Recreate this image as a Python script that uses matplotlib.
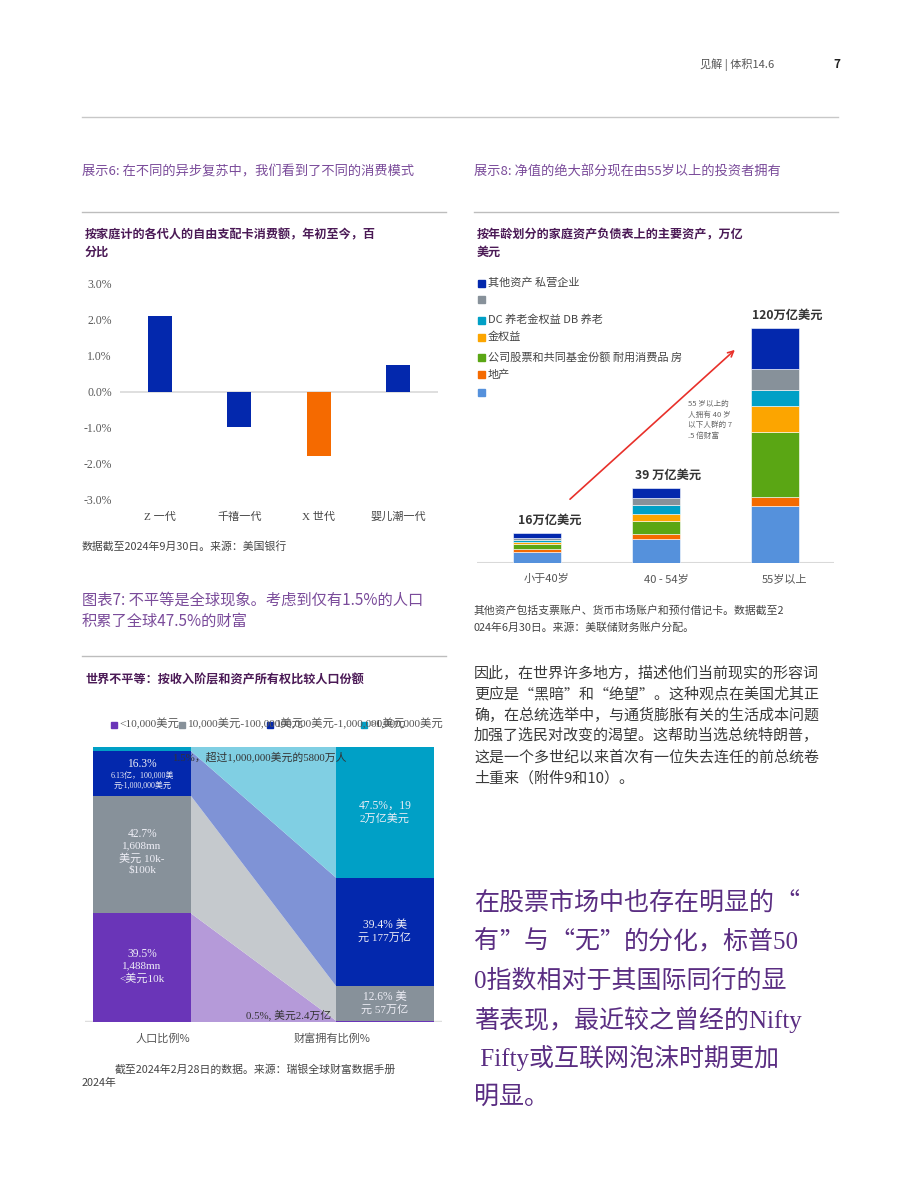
import matplotlib
matplotlib.use("Agg")
import matplotlib.pyplot as plt
import numpy as np
from matplotlib.lines import Line2D
from matplotlib.patches import Rectangle
from matplotlib.transforms import ScaledTranslation

W, H = 920, 1191
SANS = ['Noto Sans CJK SC', 'DejaVu Sans']
SERIF = ['Liberation Serif', 'Noto Sans CJK SC']
plt.rcParams['font.family'] = SANS

# --- exhibit 6: discretionary card spending by generation, YTD %
generations = ['Z 一代', '千禧一代', 'X 世代', '婴儿潮一代']
spend_change = [2.1, -1.0, -1.8, 0.75]
spend_colors = ['#0328ad', '#0328ad', '#f56a00', '#0328ad']
pct_ticks = [-3, -2, -1, 0, 1, 2, 3]

# --- exhibit 8: household assets by age group, $tn (layers bottom -> top)
age_groups = ['小于40岁', '40 - 54岁', '55岁以上']
age_totals = ['16万亿美元', '39 万亿美元', '120万亿美元']
real_estate = [5.8, 12.4, 29.1]
durable_goods = [1.3, 2.2, 4.6]
equities_funds = [2.4, 6.6, 33.3]
db_pension = [1.0, 3.9, 13.3]
dc_pension = [1.0, 4.6, 8.0]
private_biz = [1.4, 3.6, 10.9]
other_assets = [2.4, 5.1, 20.9]
asset_layers = [real_estate, durable_goods, equities_funds, db_pension,
                dc_pension, private_biz, other_assets]
asset_colors = ['#5591dc', '#f56a00', '#5aa614', '#fca500',
                '#00a0c6', '#87919a', '#0328ad']
# legend as printed (top -> bottom), labels garbled in the source
asset_legend = ['其他资产 私营企业', '', 'DC 养老金权益 DB 养老', '金权益',
                '公司股票和共同基金份额 耐用消费品 房', '地产', '']

# --- exhibit 7: world inequality
wealth_bands = ['<10,000美元', '10,000美元-100,000美元',
                '100,000美元-1,000,000美元', '>1,000,000美元']
pop_share = [39.5, 42.7, 16.3, 1.5]
wealth_share = [0.5, 12.6, 39.4, 47.5]
band_dark = ['#6a35b8', '#87919a', '#0328ad', '#00a0c6']
band_light = ['#b59ad9', '#c5c9cd', '#7f93d6', '#80cfe3']
pop_heads = ['39.5%', '42.7%', '16.3%', '']
pop_bodies = ['1,488mn\n<美元10k', '1,608mn\n美元 10k-\n$100k',
              '6.13亿，100,000美\n元-1,000,000美元', '']
pop_body_sizes = [8, 8, 5.8, 8]
wealth_heads = ['', '12.6% 美', '39.4% 美', '47.5%，19']
wealth_bodies = ['', '元 57万亿', '元 177万亿', '2万亿美元']

body_lines = [
    '因此，在世界许多地方，描述他们当前现实的形容词',
    '更应是“黑暗”和“绝望”。这种观点在美国尤其正',
    '确，在总统选举中，与通货膨胀有关的生活成本问题',
    '加强了选民对改变的渴望。这帮助当选总统特朗普，',
    '这是一个多世纪以来首次有一位失去连任的前总统卷',
    '土重来（附件9和10）。',
]
quote_lines = [
    '在股票市场中也存在明显的“',
    '有”与“无”的分化，标普50',
    '0指数相对于其国际同行的显',
    '著表现，最近较之曾经的Nifty',
    ' Fifty或互联网泡沫时期更加',
    '明显。',
]

PURPLE = '#7a4b9a'
DARK_PURPLE = '#4b1a56'
GREY_TXT = '#595959'

fig = plt.figure(figsize=(W / 100, H / 100), dpi=100)
renderer = fig.canvas.get_renderer()


def axes_px(l, t, r, b):
    return fig.add_axes([l / W, 1 - b / H, (r - l) / W, (b - t) / H])


def txt(x, y, s, **kw):
    kw.setdefault('va', 'center')
    return fig.text(x / W, 1 - y / H, s, **kw)


def hline(x0, x1, y, color='#bdbdbd', lw=1.0):
    fig.add_artist(Line2D([x0 / W, x1 / W], [1 - y / H, 1 - y / H],
                          color=color, lw=lw))


def mixed_line(x, y, line, **kw):
    # serif for latin, CJK font for curly quotes so they stay full width
    runs = []
    for ch in line:
        fam = 'cjk' if ch in '“”' else 'serif'
        if runs and runs[-1][1] == fam:
            runs[-1][0] += ch
        else:
            runs.append([ch, fam])
    for run, fam in runs:
        t = txt(x, y, run, family=SANS if fam == 'cjk' else SERIF, **kw)
        x += t.get_window_extent(renderer).width


# header
txt(700, 65, '见解 | 体积14.6', fontsize=8, color='#555555')
txt(833, 65, '7', fontsize=8.5, fontweight='bold', color='#222222')
hline(82, 838, 117, '#c8c8c8')

# section titles
txt(82, 172, '展示6: 在不同的异步复苏中，我们看到了不同的消费模式',
    fontsize=9.5, color=PURPLE)
txt(474, 172, '展示8: 净值的绝大部分现在由55岁以上的投资者拥有',
    fontsize=9.5, color=PURPLE)
hline(82, 446, 212)
hline(474, 838, 212)

# ---------------- exhibit 6 ----------------
for i, line in enumerate(['按家庭计的各代人的自由支配卡消费额，年初至今，百', '分比']):
    txt(85, 235 + 17.5 * i, line, fontsize=8.7, fontweight='bold', color=DARK_PURPLE)

ax1 = axes_px(120, 284, 438, 499)
x1 = np.arange(len(generations))
ax1.bar(x1, spend_change, width=0.3, color=spend_colors)
ax1.axhline(0, color='#d9d9d9', lw=1.2, zorder=0)
ax1.set_xlim(-0.5, 3.5)
ax1.set_ylim(-3, 3)
ax1.set_yticks(pct_ticks)
ax1.set_yticklabels([f'{v:.1f}%' for v in pct_ticks], family=SERIF,
                    fontsize=8.5, color=GREY_TXT)
ax1.set_xticks(x1)
ax1.set_xticklabels(generations, fontsize=8, color='#444444', family=SERIF)
ax1.tick_params(axis='y', length=0, pad=6)
ax1.tick_params(axis='x', length=0, pad=9)
for s in ax1.spines.values():
    s.set_visible(False)

txt(82, 546, '数据截至2024年9月30日。来源：美国银行', fontsize=7.8, color='#444444')

# ---------------- exhibit 8 ----------------
for i, line in enumerate(['按年龄划分的家庭资产负债表上的主要资产，万亿', '美元']):
    txt(477, 235 + 17.5 * i, line, fontsize=8.7, fontweight='bold', color=DARK_PURPLE)

legend_y = [283, 300, 320, 337, 357, 375, 393]
for y, label, color in zip(legend_y, asset_legend, asset_colors[::-1]):
    fig.add_artist(Rectangle((478 / W, 1 - (y + 3.5) / H), 7 / W, 7 / H,
                             color=color, transform=fig.transFigure))
    txt(488, y, label, fontsize=8, color='#444444')

ax2 = axes_px(477.5, 270, 834.5, 563)
x2 = np.arange(len(age_groups))
bottom = np.zeros(len(age_groups))
for vals, color in zip(asset_layers, asset_colors):
    ax2.bar(x2, vals, bottom=bottom, width=0.395, color=color,
            edgecolor='white', linewidth=0.4)
    bottom += np.array(vals)
ax2.axhline(0, color='#d9d9d9', lw=1.5, zorder=0)
ax2.set_xlim(-0.5, 2.5)
ax2.set_ylim(0, 149.5)
ax2.set_yticks([])
ax2.set_xticks(x2)
ax2.set_xticklabels(age_groups, fontsize=8, color='#555555')
ax2.tick_params(axis='x', length=0, pad=8)
for lab in ax2.get_xticklabels():
    lab.set_transform(lab.get_transform() +
                      ScaledTranslation(0.1, 0, fig.dpi_scale_trans))
for s in ax2.spines.values():
    s.set_visible(False)
for i, (total, label) in enumerate(zip(bottom, age_totals)):
    ax2.annotate(label, (i, total), xytext=(9, 9), textcoords='offset points',
                 ha='center', va='center', fontsize=8.8, fontweight='bold',
                 color='#333333')
ax2.annotate('', xy=(1.68, 109.7), xytext=(0.26, 31.6),
             arrowprops=dict(arrowstyle='->', color='#e8302a', lw=1.2))
for i, line in enumerate(['55 岁以上的', '人拥有 40 岁', '以下人群的 7', '.5 倍财富']):
    txt(688, 404 + 10.5 * i, line, fontsize=5.5, color='#666666')

txt(474, 610, '其他资产包括支票账户、货币市场账户和预付借记卡。数据截至2',
    fontsize=7.8, color='#444444')
txt(474, 628, '024年6月30日。来源：美联储财务账户分配。', fontsize=7.8, color='#444444')

for i, line in enumerate(body_lines):
    txt(474, 673 + 21 * i, line, fontsize=10.8, color='#3a3a3a')

for i, line in enumerate(quote_lines):
    mixed_line(474, 903 + 38.8 * i, line, fontsize=18, color='#5a2d82')

# ---------------- exhibit 7 ----------------
txt(82, 600, '图表7: 不平等是全球现象。考虑到仅有1.5%的人口', fontsize=11, color=PURPLE)
txt(82, 621, '积累了全球47.5%的财富', fontsize=11, color=PURPLE)
hline(82, 446, 656)
txt(86, 680, '世界不平等：按收入阶层和资产所有权比较人口份额',
    fontsize=8.7, fontweight='bold', color=DARK_PURPLE)

legend_x = [111, 179, 267, 361]
for x, label, color in zip(legend_x, wealth_bands, band_dark):
    fig.add_artist(Rectangle((x / W, 1 - 727.5 / H), 6 / W, 6 / H,
                             color=color, transform=fig.transFigure))
    txt(x + 8, 724, label, fontsize=8.2, color='#555555', family=SERIF)

ax3 = axes_px(85, 747, 442, 1022)
bw = 0.403
pop_top = np.cumsum(pop_share)
pop_bot = pop_top - np.array(pop_share)
wl_top = np.cumsum(wealth_share)
wl_bot = wl_top - np.array(wealth_share)
for i in range(len(wealth_bands)):
    ax3.bar(0, pop_share[i], bottom=pop_bot[i], width=bw, color=band_dark[i])
    ax3.bar(1, wealth_share[i], bottom=wl_bot[i], width=bw, color=band_dark[i])
    ax3.fill([bw / 2, 1 - bw / 2, 1 - bw / 2, bw / 2],
             [pop_bot[i], wl_bot[i], wl_top[i], pop_top[i]],
             color=band_light[i], lw=0)
ax3.axhline(0, color='#dedede', lw=2.5, zorder=0)
ax3.set_xlim(-0.235, 1.235)
ax3.set_ylim(0, 100)
ax3.axis('off')


def block_label(ax, x, mid, head, body, body_size, head_size=8.3):
    if not head:
        return
    n = body.count('\n') + 1
    head_h = head_size * 1.3
    body_h = n * body_size * 1.3
    off = (head_h + body_h) / 2 - head_h
    kw = dict(textcoords='offset points', ha='center', color='#eeeef6',
              family=SERIF, linespacing=1.3)
    ax.annotate(head, (x, mid), xytext=(0, off + 0.5), va='bottom',
                fontsize=head_size, **kw)
    ax.annotate(body, (x, mid), xytext=(0, off - 0.5), va='top',
                fontsize=body_size, **kw)


for i in range(len(wealth_bands)):
    block_label(ax3, 0, (pop_bot[i] + pop_top[i]) / 2, pop_heads[i],
                pop_bodies[i], pop_body_sizes[i])
    block_label(ax3, 1, (wl_bot[i] + wl_top[i]) / 2, wealth_heads[i],
                wealth_bodies[i], 8)

txt(172, 757, '1.5%，超过1,000,000美元的5800万人', fontsize=7.8,
    color='#333333', family=SERIF)
txt(331, 1015, '0.5%, 美元2.4万亿', fontsize=7.8, color='#333333',
    family=SERIF, ha='right')
txt(163, 1039, '人口比例%', fontsize=8, color='#555555', ha='center')
txt(332, 1039, '财富拥有比例%', fontsize=8, color='#555555', ha='center')
txt(115, 1069, '截至2024年2月28日的数据。来源：瑞银全球财富数据手册',
    fontsize=7.8, color='#444444')
txt(82, 1083, '2024年', fontsize=7.8, color='#444444')

fig.savefig('out.png', dpi=100, facecolor='white')
